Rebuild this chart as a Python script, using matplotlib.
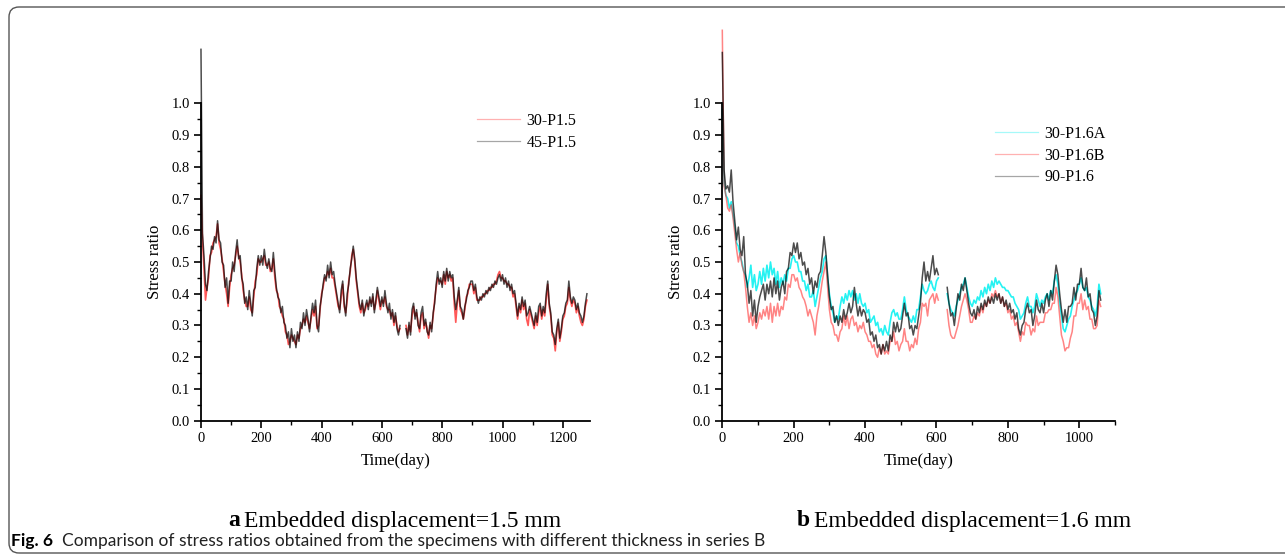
import numpy as np
import matplotlib
matplotlib.use("Agg")
import matplotlib.pyplot as plt
from matplotlib.patches import FancyBboxPatch
from matplotlib.transforms import IdentityTransform

nan = np.nan
days_a = np.arange(0, 1281, 5)
days_b = np.arange(0, 1061, 5)

p15_30 = [  # 30-P1.5
    0.71, 0.57, 0.48, 0.38, 0.42, 0.45, 0.52, 0.53, 0.56, 0.57, 0.58, 0.62, 0.56, 0.54, 0.51, 0.47, 0.43, 0.40, 0.36, 0.42,
    0.46, 0.48, 0.49, 0.52, 0.55, 0.52, 0.50, 0.46, 0.41, 0.38, 0.36, 0.36, 0.39, 0.35, 0.34, 0.39, 0.44, 0.46, 0.51, 0.50,
    0.50, 0.51, 0.52, 0.49, 0.49, 0.50, 0.47, 0.48, 0.51, 0.45, 0.41, 0.40, 0.36, 0.35, 0.33, 0.32, 0.28, 0.27, 0.24, 0.25,
    0.27, 0.26, 0.25, 0.24, 0.27, 0.26, 0.29, 0.30, 0.32, 0.31, 0.33, 0.31, 0.29, 0.32, 0.35, 0.33, 0.36, 0.29, 0.30, 0.35,
    0.40, 0.42, 0.45, 0.45, 0.47, 0.46, 0.48, 0.45, 0.45, 0.42, 0.39, 0.36, 0.35, 0.39, 0.43, 0.36, 0.34, 0.38, 0.44, 0.47,
    0.52, 0.54, 0.50, 0.44, 0.40, 0.36, 0.34, 0.37, 0.34, 0.35, 0.37, 0.36, 0.38, 0.37, 0.39, 0.35, 0.37, 0.41, 0.38, 0.35,
    0.38, 0.37, 0.39, 0.36, 0.35, 0.35, 0.33, 0.34, 0.30, 0.33, 0.30, 0.28, 0.29, nan, nan, nan, 0.30, 0.27, 0.30, 0.28,
    0.33, 0.36, 0.33, 0.34, 0.31, 0.28, 0.33, 0.34, 0.29, 0.31, 0.29, 0.26, 0.30, 0.29, 0.33, 0.38, 0.42, 0.45, 0.44, 0.44,
    0.43, 0.46, 0.43, 0.47, 0.45, 0.46, 0.44, 0.45, 0.37, 0.31, 0.37, 0.41, 0.35, 0.34, 0.32, 0.35, 0.39, 0.40, 0.43, 0.43,
    0.43, 0.40, 0.42, 0.38, 0.38, 0.38, 0.39, 0.39, 0.40, 0.40, 0.41, 0.41, 0.42, 0.42, 0.43, 0.43, 0.44, 0.46, 0.47, 0.45,
    0.45, 0.44, 0.44, 0.43, 0.43, 0.42, 0.42, 0.39, 0.40, 0.36, 0.32, 0.36, 0.34, 0.38, 0.35, 0.37, 0.32, 0.30, 0.35, 0.33,
    0.31, 0.29, 0.33, 0.30, 0.34, 0.36, 0.32, 0.35, 0.33, 0.38, 0.43, 0.36, 0.33, 0.27, 0.26, 0.22, 0.28, 0.31, 0.25, 0.28,
    0.32, 0.33, 0.36, 0.37, 0.42, 0.38, 0.36, 0.38, 0.37, 0.34, 0.36, 0.33, 0.31, 0.30, 0.32, 0.36, 0.38,
]
p15_45 = [  # 45-P1.5
    1.17, 0.59, 0.52, 0.43, 0.41, 0.47, 0.51, 0.55, 0.54, 0.58, 0.56, 0.63, 0.57, 0.56, 0.50, 0.49, 0.42, 0.45, 0.37, 0.44,
    0.44, 0.50, 0.47, 0.53, 0.57, 0.51, 0.52, 0.45, 0.43, 0.37, 0.39, 0.35, 0.41, 0.37, 0.33, 0.41, 0.42, 0.48, 0.52, 0.49,
    0.52, 0.49, 0.54, 0.50, 0.48, 0.51, 0.48, 0.47, 0.53, 0.47, 0.42, 0.39, 0.38, 0.34, 0.36, 0.31, 0.30, 0.26, 0.28, 0.23,
    0.29, 0.25, 0.27, 0.23, 0.28, 0.25, 0.31, 0.29, 0.34, 0.30, 0.35, 0.32, 0.28, 0.33, 0.37, 0.34, 0.38, 0.30, 0.28, 0.36,
    0.39, 0.43, 0.46, 0.44, 0.49, 0.45, 0.50, 0.46, 0.47, 0.43, 0.40, 0.37, 0.34, 0.41, 0.44, 0.37, 0.33, 0.40, 0.43, 0.48,
    0.51, 0.55, 0.51, 0.45, 0.41, 0.37, 0.35, 0.38, 0.33, 0.36, 0.38, 0.35, 0.39, 0.36, 0.40, 0.34, 0.38, 0.42, 0.39, 0.36,
    0.39, 0.36, 0.41, 0.37, 0.34, 0.37, 0.32, 0.35, 0.31, 0.34, 0.29, 0.27, 0.30, nan, nan, nan, 0.29, 0.26, 0.31, 0.27,
    0.35, 0.37, 0.32, 0.35, 0.30, 0.29, 0.34, 0.36, 0.30, 0.32, 0.28, 0.27, 0.31, 0.28, 0.34, 0.37, 0.43, 0.47, 0.43, 0.45,
    0.42, 0.47, 0.44, 0.48, 0.44, 0.47, 0.45, 0.46, 0.39, 0.35, 0.38, 0.42, 0.36, 0.35, 0.32, 0.36, 0.38, 0.41, 0.42, 0.44,
    0.44, 0.41, 0.43, 0.39, 0.37, 0.39, 0.38, 0.40, 0.39, 0.41, 0.40, 0.42, 0.41, 0.43, 0.42, 0.44, 0.43, 0.45, 0.46, 0.44,
    0.46, 0.43, 0.45, 0.42, 0.44, 0.41, 0.43, 0.40, 0.41, 0.37, 0.33, 0.37, 0.35, 0.39, 0.36, 0.38, 0.33, 0.34, 0.36, 0.34,
    0.32, 0.30, 0.34, 0.31, 0.36, 0.37, 0.33, 0.36, 0.34, 0.40, 0.44, 0.37, 0.34, 0.28, 0.27, 0.24, 0.29, 0.32, 0.26, 0.29,
    0.33, 0.34, 0.37, 0.38, 0.44, 0.39, 0.37, 0.39, 0.38, 0.35, 0.37, 0.34, 0.33, 0.31, 0.33, 0.37, 0.40,
]

p16_30a = [  # 30-P1.6A
    0.98, 0.75, 0.71, 0.70, 0.67, 0.69, 0.65, 0.61, 0.56, 0.55, 0.52, 0.50, 0.47, 0.46, 0.42, 0.45, 0.49, 0.42, 0.46, 0.41,
    0.43, 0.47, 0.43, 0.48, 0.44, 0.49, 0.45, 0.50, 0.46, 0.48, 0.43, 0.47, 0.42, 0.45, 0.43, 0.46, 0.44, 0.48, 0.48, 0.51,
    0.52, 0.50, 0.50, 0.47, 0.47, 0.44, 0.44, 0.41, 0.43, 0.39, 0.39, 0.41, 0.36, 0.39, 0.42, 0.45, 0.47, 0.51, 0.52, 0.45,
    0.40, 0.36, 0.34, 0.31, 0.33, 0.32, 0.36, 0.39, 0.37, 0.40, 0.38, 0.41, 0.39, 0.41, 0.38, 0.40, 0.37, 0.40, 0.37, 0.36,
    0.37, 0.34, 0.35, 0.31, 0.32, 0.33, 0.30, 0.31, 0.28, 0.29, 0.27, 0.30, 0.28, 0.27, 0.31, 0.34, 0.35, 0.33, 0.34, 0.32,
    0.32, 0.35, 0.39, 0.35, 0.33, 0.32, 0.31, 0.33, 0.31, 0.35, 0.35, 0.39, 0.43, 0.41, 0.40, 0.41, 0.43, 0.44, 0.42, 0.41,
    0.44, 0.45, nan, nan, nan, nan, 0.40, 0.37, 0.35, 0.34, 0.33, 0.36, 0.38, 0.40, 0.42, 0.43, 0.45, 0.42, 0.39, 0.37,
    0.36, 0.38, 0.37, 0.39, 0.38, 0.41, 0.39, 0.42, 0.40, 0.43, 0.41, 0.44, 0.42, 0.45, 0.43, 0.44, 0.43, 0.42, 0.42, 0.41,
    0.41, 0.40, 0.39, 0.39, 0.37, 0.36, 0.35, 0.32, 0.33, 0.34, 0.37, 0.39, 0.36, 0.36, 0.34, 0.36, 0.40, 0.38, 0.36, 0.38,
    0.37, 0.39, 0.40, 0.38, 0.41, 0.40, 0.44, 0.46, 0.43, 0.37, 0.33, 0.29, 0.28, 0.30, 0.32, 0.33, 0.36, 0.38, 0.40, 0.41,
    0.43, 0.45, 0.42, 0.41, 0.42, 0.39, 0.38, 0.36, 0.35, 0.33, 0.36, 0.43, 0.40,
]
p16_30b = [  # 30-P1.6B
    1.23, 0.74, 0.71, 0.67, 0.66, 0.68, 0.64, 0.59, 0.54, 0.50, 0.53, 0.49, 0.47, 0.42, 0.36, 0.31, 0.34, 0.30, 0.33, 0.29,
    0.31, 0.34, 0.32, 0.35, 0.33, 0.36, 0.32, 0.37, 0.31, 0.36, 0.33, 0.37, 0.33, 0.36, 0.35, 0.39, 0.38, 0.43, 0.42, 0.46,
    0.46, 0.44, 0.45, 0.42, 0.41, 0.39, 0.38, 0.36, 0.33, 0.35, 0.33, 0.31, 0.27, 0.33, 0.36, 0.40, 0.44, 0.47, 0.50, 0.42,
    0.35, 0.31, 0.30, 0.27, 0.27, 0.25, 0.28, 0.29, 0.33, 0.30, 0.33, 0.29, 0.32, 0.33, 0.30, 0.31, 0.28, 0.30, 0.29, 0.31,
    0.28, 0.27, 0.25, 0.25, 0.23, 0.24, 0.21, 0.20, 0.23, 0.21, 0.24, 0.21, 0.22, 0.21, 0.25, 0.25, 0.28, 0.24, 0.25, 0.22,
    0.24, 0.25, 0.29, 0.25, 0.25, 0.22, 0.24, 0.23, 0.26, 0.24, 0.29, 0.31, 0.37, 0.36, 0.37, 0.33, 0.38, 0.39, 0.40, 0.37,
    0.40, 0.38, nan, nan, nan, nan, 0.35, 0.30, 0.27, 0.26, 0.26, 0.28, 0.30, 0.33, 0.36, 0.38, 0.40, 0.38, 0.35, 0.31,
    0.31, 0.33, 0.32, 0.34, 0.33, 0.36, 0.34, 0.37, 0.36, 0.38, 0.37, 0.40, 0.39, 0.41, 0.39, 0.40, 0.37, 0.39, 0.36, 0.37,
    0.34, 0.35, 0.32, 0.33, 0.30, 0.31, 0.28, 0.25, 0.28, 0.27, 0.31, 0.30, 0.30, 0.27, 0.29, 0.28, 0.33, 0.30, 0.31, 0.31,
    0.31, 0.34, 0.34, 0.35, 0.35, 0.37, 0.37, 0.42, 0.39, 0.33, 0.27, 0.25, 0.22, 0.23, 0.23, 0.26, 0.28, 0.33, 0.33, 0.37,
    0.37, 0.40, 0.35, 0.38, 0.35, 0.36, 0.32, 0.32, 0.29, 0.29, 0.30, 0.38, 0.36,
]
p16_90 = [  # 90-P1.6
    1.16, 0.79, 0.73, 0.74, 0.72, 0.79, 0.69, 0.63, 0.57, 0.61, 0.54, 0.52, 0.58, 0.46, 0.43, 0.37, 0.41, 0.33, 0.38, 0.31,
    0.36, 0.39, 0.41, 0.43, 0.38, 0.43, 0.40, 0.44, 0.39, 0.45, 0.40, 0.44, 0.38, 0.42, 0.44, 0.40, 0.47, 0.48, 0.53, 0.52,
    0.56, 0.53, 0.56, 0.51, 0.53, 0.49, 0.50, 0.46, 0.48, 0.43, 0.45, 0.40, 0.44, 0.42, 0.46, 0.47, 0.52, 0.58, 0.53, 0.46,
    0.39, 0.35, 0.36, 0.31, 0.33, 0.30, 0.33, 0.31, 0.35, 0.32, 0.34, 0.37, 0.34, 0.36, 0.42, 0.37, 0.33, 0.36, 0.33, 0.35,
    0.34, 0.31, 0.32, 0.27, 0.28, 0.25, 0.27, 0.23, 0.24, 0.21, 0.24, 0.22, 0.25, 0.22, 0.27, 0.25, 0.31, 0.28, 0.31, 0.28,
    0.29, 0.33, 0.37, 0.33, 0.34, 0.29, 0.30, 0.27, 0.30, 0.29, 0.33, 0.37, 0.45, 0.50, 0.44, 0.47, 0.44, 0.48, 0.52, 0.46,
    0.48, 0.46, nan, nan, nan, nan, 0.42, 0.37, 0.33, 0.34, 0.30, 0.35, 0.40, 0.38, 0.43, 0.41, 0.45, 0.41, 0.37, 0.34,
    0.33, 0.35, 0.32, 0.36, 0.34, 0.37, 0.35, 0.38, 0.36, 0.39, 0.37, 0.39, 0.37, 0.40, 0.38, 0.40, 0.37, 0.39, 0.36, 0.38,
    0.35, 0.37, 0.34, 0.35, 0.32, 0.34, 0.29, 0.27, 0.30, 0.31, 0.35, 0.37, 0.34, 0.35, 0.30, 0.33, 0.38, 0.35, 0.34, 0.37,
    0.34, 0.38, 0.40, 0.36, 0.41, 0.38, 0.44, 0.49, 0.46, 0.40, 0.35, 0.31, 0.35, 0.31, 0.36, 0.36, 0.37, 0.42, 0.38, 0.43,
    0.43, 0.48, 0.42, 0.41, 0.45, 0.39, 0.40, 0.35, 0.34, 0.30, 0.33, 0.41, 0.38,
]

y_ticks = [0.0, 0.1, 0.2, 0.3, 0.4, 0.5, 0.6, 0.7, 0.8, 0.9, 1.0]

serif = "Liberation Serif"

fig = plt.figure(figsize=(12.85, 5.59), dpi=100)


def style_axes(ax, xmax, xticks):
    ax.set_xlim(0, xmax)
    ax.set_ylim(0, 1.0)
    ax.spines["top"].set_visible(False)
    ax.spines["right"].set_visible(False)
    for s in ("left", "bottom"):
        ax.spines[s].set_linewidth(1.3)
    ax.set_xticks(xticks)
    ax.set_xticks(np.arange(0, xmax + 1, 100), minor=True)
    ax.set_yticks(y_ticks)
    ax.set_yticklabels(["%.1f" % v for v in y_ticks])
    ax.set_yticks(np.arange(0, 1.001, 0.05), minor=True)
    ax.tick_params(which="major", direction="out", length=5, width=1.2,
                   labelsize=10.5, pad=3)
    ax.tick_params(which="minor", direction="out", length=3, width=1.0)
    for lab in ax.get_xticklabels() + ax.get_yticklabels():
        lab.set_fontfamily(serif)
    ax.set_xlabel("Time(day)", fontfamily=serif, fontsize=12, labelpad=6)
    ax.set_ylabel("Stress ratio", fontfamily=serif, fontsize=12, labelpad=6)


# panel a
ax1 = fig.add_axes([0.1564, 0.2474, 0.3027, 0.5678])
ax1.plot(days_a, p15_30, color="#ff2020", lw=1.2, alpha=0.75, clip_on=False, label="30-P1.5")
ax1.plot(days_a, p15_45, color="#000000", lw=1.1, alpha=0.7, clip_on=False, label="45-P1.5")
style_axes(ax1, 1290, np.arange(0, 1201, 200))
leg1 = ax1.legend(loc="upper left", bbox_to_anchor=(477 / 1285, 1 - 113 / 559),
                  bbox_transform=fig.transFigure, frameon=False, borderpad=0,
                  borderaxespad=0, handlelength=2.7, handletextpad=0.4,
                  labelspacing=0.35, prop={"family": serif, "size": 11.5})
for h in leg1.get_lines():
    h.set_alpha(0.35)
    h.set_linewidth(0.9)

# panel b
ax2 = fig.add_axes([0.5621, 0.2474, 0.3056, 0.5678])
ax2.plot(days_b, p16_30a, color="#00f0f0", lw=1.2, alpha=0.85, clip_on=False, label="30-P1.6A")
ax2.plot(days_b, p16_30b, color="#ff2020", lw=1.1, alpha=0.55, clip_on=False, label="30-P1.6B")
ax2.plot(days_b, p16_90, color="#000000", lw=1.1, alpha=0.7, clip_on=False, label="90-P1.6")
style_axes(ax2, 1100, np.arange(0, 1001, 200))
leg2 = ax2.legend(loc="upper left", bbox_to_anchor=(995 / 1285, 1 - 126 / 559),
                  bbox_transform=fig.transFigure, frameon=False, borderpad=0,
                  borderaxespad=0, handlelength=2.7, handletextpad=0.4,
                  labelspacing=0.35, prop={"family": serif, "size": 11.5})
for h in leg2.get_lines():
    h.set_alpha(0.35)
    h.set_linewidth(0.9)

# sub captions
fig.text(228 / 1285, 1 - 521 / 559, "a", fontfamily=serif, fontweight="bold",
         fontsize=17, va="center", ha="left")
fig.text(244 / 1285, 1 - 521 / 559, "Embedded displacement=1.5 mm", fontfamily=serif,
         fontsize=17, va="center", ha="left")
fig.text(797 / 1285, 1 - 521 / 559, "b", fontfamily=serif, fontweight="bold",
         fontsize=17, va="center", ha="left")
fig.text(814 / 1285, 1 - 521 / 559, "Embedded displacement=1.6 mm", fontfamily=serif,
         fontsize=17, va="center", ha="left")

# figure caption
fig.text(11 / 1285, 1 - 541 / 559, "Fig. 6", fontfamily="Lato", fontweight="bold",
         fontsize=12.5, va="center", ha="left")
fig.text(62 / 1285, 1 - 541 / 559,
         "Comparison of stress ratios obtained from the specimens with different thickness in series B",
         fontfamily="Lato", fontsize=12.5, va="center", ha="left", color="#222222")

# rounded frame around the figure
frame = FancyBboxPatch((9, 559 - 553), 1300, 546, boxstyle="round,pad=0,rounding_size=10",
                       transform=IdentityTransform(), fill=False, edgecolor="#555555",
                       lw=1.0)
fig.patches.append(frame)

fig.savefig("out.png", dpi=100)
